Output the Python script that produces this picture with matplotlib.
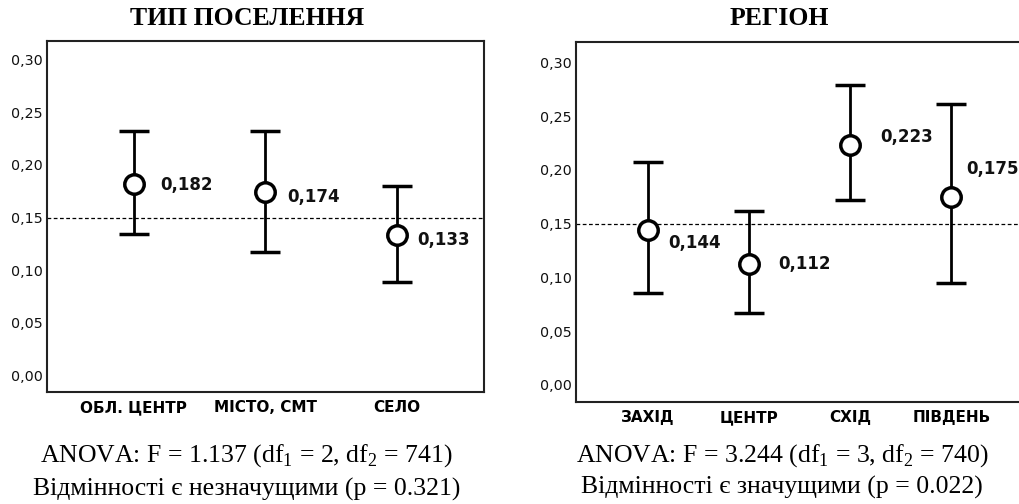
import matplotlib
matplotlib.use("Agg")
import matplotlib.pyplot as plt
import numpy as np

plt.rcParams['mathtext.fontset'] = 'custom'
plt.rcParams['mathtext.rm'] = 'Liberation Serif'

# ---- data ----
settl_cats = ["ОБЛ. ЦЕНТР", "МІСТО, СМТ", "СЕЛО"]
settl_mean = [0.182, 0.174, 0.133]
settl_low = [0.134, 0.117, 0.089]
settl_high = [0.232, 0.232, 0.180]

region_cats = ["ЗАХІД", "ЦЕНТР", "СХІД", "ПІВДЕНЬ"]
region_mean = [0.144, 0.112, 0.223, 0.175]
region_low = [0.085, 0.067, 0.172, 0.095]
region_high = [0.207, 0.162, 0.279, 0.261]

ref_level = 0.15
yticks = [0.00, 0.05, 0.10, 0.15, 0.20, 0.25, 0.30]

# label offsets (pixels) next to each marker
settl_off = [(26, -1), (22, -5), (20, -5)]
region_off = [(20, -13), (29, 0), (30, 8), (15, 28)]

fig = plt.figure(figsize=(10.2, 5.04), dpi=100)
ax1 = fig.add_axes([0.046, 0.2222, 0.4285, 0.6965])
ax2 = fig.add_axes([0.5647, 0.2024, 0.4373, 0.7143])


def draw_panel(ax, cats, mean, low, high, offs, xlim, ylim):
    x = np.arange(len(cats))
    mean = np.array(mean)
    err = [mean - np.array(low), np.array(high) - mean]
    ax.axhline(ref_level, color='black', lw=0.9, ls=(0, (3, 2)), zorder=1)
    ax.errorbar(x, mean, yerr=err, fmt='o', color='black', ecolor='black',
                elinewidth=2, capsize=11, capthick=2.5, markersize=14,
                markerfacecolor='white', markeredgecolor='black',
                markeredgewidth=2.5, zorder=3)
    for xi, m, (dx, dy) in zip(x, mean, offs):
        ax.annotate(f"{m:.3f}".replace('.', ','), (xi, m),
                    xytext=(dx, dy), textcoords='offset pixels',
                    ha='left', va='center', fontsize=12, fontweight='bold',
                    family='DejaVu Sans', color='#111111')
    ax.set_xlim(*xlim)
    ax.set_ylim(*ylim)
    ax.set_xticks(x)
    ax.set_xticklabels(cats, fontsize=11, fontweight='bold',
                       family='DejaVu Sans')
    ax.set_yticks(yticks)
    ax.set_yticklabels([f"{v:.2f}".replace('.', ',') for v in yticks],
                       fontsize=10.3, family='DejaVu Sans', color='#111111')
    ax.tick_params(axis='both', length=0)
    ax.tick_params(axis='x', pad=6)
    ax.tick_params(axis='y', pad=3)
    for s in ax.spines.values():
        s.set_linewidth(1.5)
        s.set_color('#222222')


draw_panel(ax1, settl_cats, settl_mean, settl_low, settl_high, settl_off,
           (-0.66, 2.66), (-0.016, 0.318))
draw_panel(ax2, region_cats, region_mean, region_low, region_high, region_off,
           (-0.713, 3.70), (-0.016, 0.319))

fig.text(0.242, 0.964, "ТИП ПОСЕЛЕННЯ", ha='center', va='center',
         fontsize=18.5, fontweight='bold', family='Liberation Serif')
fig.text(0.764, 0.964, "РЕГІОН", ha='center', va='center',
         fontsize=18.5, fontweight='bold', family='Liberation Serif')

fig.text(0.242, 0.097, r"ANOVA: F = 1.137 (df$_1$ = 2, df$_2$ = 741)",
         ha='center', va='center', fontsize=18.5, family='Liberation Serif')
fig.text(0.242, 0.028, "Відмінності є незначущими (p = 0.321)",
         ha='center', va='center', fontsize=18.5, family='Liberation Serif')
fig.text(0.767, 0.097, r"ANOVA: F = 3.244 (df$_1$ = 3, df$_2$ = 740)",
         ha='center', va='center', fontsize=18.5, family='Liberation Serif')
fig.text(0.767, 0.032, "Відмінності є значущими (p = 0.022)",
         ha='center', va='center', fontsize=18.5, family='Liberation Serif')

fig.savefig("out.png", dpi=100)
